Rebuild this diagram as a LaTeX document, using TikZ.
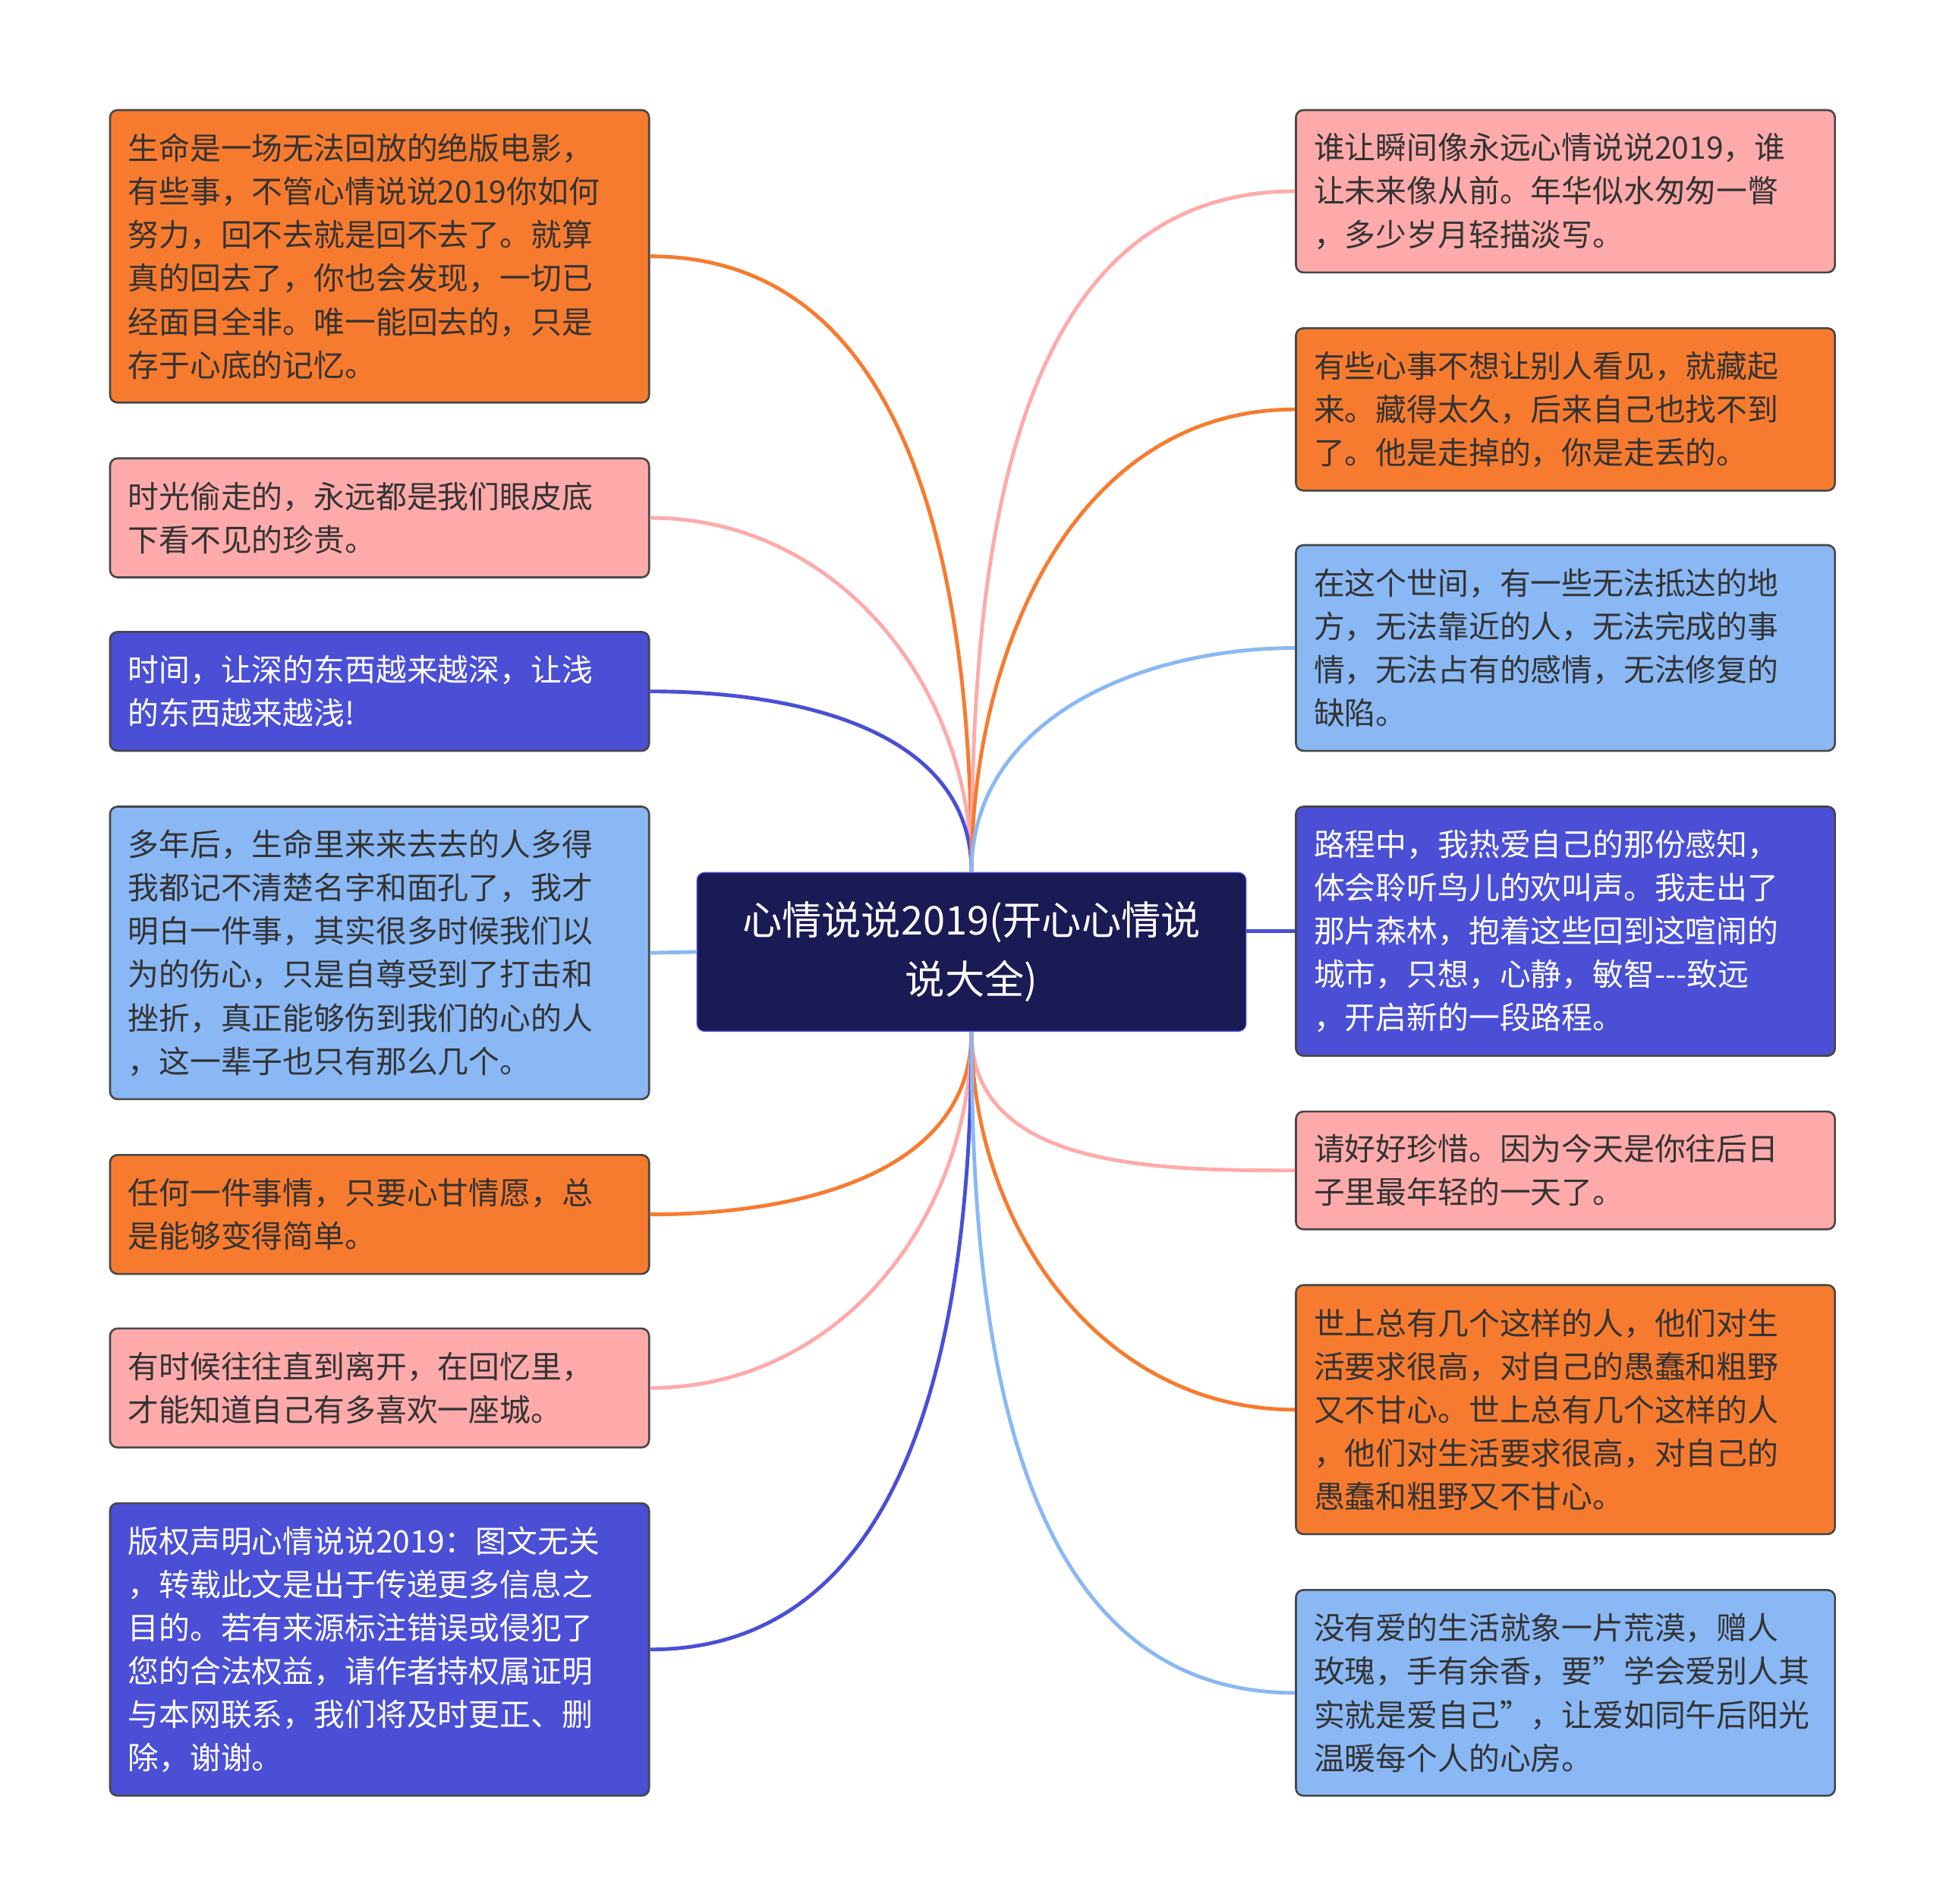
\documentclass[tikz,border=0pt]{standalone}
\usepackage{fontspec}
\setmainfont{Noto Sans CJK SC}
\usetikzlibrary{positioning}
\definecolor{orangebox}{RGB}{247,123,47}
\definecolor{pinkbox}{RGB}{255,170,170}
\definecolor{darkbox}{RGB}{74,79,214}
\definecolor{lightbox}{RGB}{138,184,245}
\definecolor{rootbox}{RGB}{26,26,85}
\definecolor{textgray}{RGB}{51,51,51}
\tikzset{
  leaf/.style={draw=textgray!90,line width=0.8pt,rounded corners=3pt,anchor=north west,
    minimum width=217.5pt,text width=203pt,inner sep=7pt,align=left,
    font=\fontsize{12.5pt}{17.5pt}\selectfont,text=textgray},
  orangeleaf/.style={leaf,fill=orangebox},
  pinkleaf/.style={leaf,fill=pinkbox},
  darkleaf/.style={leaf,fill=darkbox,text=white},
  lightleaf/.style={leaf,fill=lightbox},
  link/.style={line width=1.5pt},
}
\begin{document}
\begin{tikzpicture}[x=0.5pt,y=-0.5pt]
\useasboundingbox (0,0) rectangle (1568,1536);
% centre
\node[draw=darkbox,fill=rootbox,rounded corners=3pt,minimum width=221.5pt,minimum height=64pt,
  text=white,align=center,font=\fontsize{16pt}{24pt}\selectfont] (C) at (784,768)
  {心情说说2019(开心心情说\\说大全)};
% left
\node[orangeleaf,minimum height=118pt] (L1) at (88,88) {生命是一场无法回放的绝版电影，\\有些事，不管心情说说2019你如何\\努力，回不去就是回不去了。就算\\真的回去了，你也会发现，一切已\\经面目全非。唯一能回去的，只是\\存于心底的记忆。};
\node[pinkleaf,minimum height=48pt] (L2) at (88,369) {时光偷走的，永远都是我们眼皮底\\下看不见的珍贵。};
\node[darkleaf,minimum height=48pt] (L3) at (88,509) {时间，让深的东西越来越深，让浅\\的东西越来越浅!};
\node[lightleaf,minimum height=118pt] (L4) at (88,650) {多年后，生命里来来去去的人多得\\我都记不清楚名字和面孔了，我才\\明白一件事，其实很多时候我们以\\为的伤心，只是自尊受到了打击和\\挫折，真正能够伤到我们的心的人\\，这一辈子也只有那么几个。};
\node[orangeleaf,minimum height=48pt] (L5) at (88,931) {任何一件事情，只要心甘情愿，总\\是能够变得简单。};
\node[pinkleaf,minimum height=48pt] (L6) at (88,1071) {有时候往往直到离开，在回忆里，\\才能知道自己有多喜欢一座城。};
\node[darkleaf,minimum height=118pt] (L7) at (88,1212) {版权声明心情说说2019：图文无关\\，转载此文是出于传递更多信息之\\目的。若有来源标注错误或侵犯了\\您的合法权益，请作者持权属证明\\与本网联系，我们将及时更正、删\\除，谢谢。};
% right
\node[pinkleaf,minimum height=65.5pt] (R1) at (1045,88) {谁让瞬间像永远心情说说2019，谁\\让未来像从前。年华似水匆匆一瞥\\，多少岁月轻描淡写。};
\node[orangeleaf,minimum height=65.5pt] (R2) at (1045,264) {有些心事不想让别人看见，就藏起\\来。藏得太久，后来自己也找不到\\了。他是走掉的，你是走丢的。};
\node[lightleaf,minimum height=83pt] (R3) at (1045,439) {在这个世间，有一些无法抵达的地\\方，无法靠近的人，无法完成的事\\情，无法占有的感情，无法修复的\\缺陷。};
\node[darkleaf,minimum height=100.5pt] (R4) at (1045,650) {路程中，我热爱自己的那份感知，\\体会聆听鸟儿的欢叫声。我走出了\\那片森林，抱着这些回到这喧闹的\\城市，只想，心静，敏智{-}{-}{-}致远\\，开启新的一段路程。};
\node[pinkleaf,minimum height=47.5pt] (R5) at (1045,896) {请好好珍惜。因为今天是你往后日\\子里最年轻的一天了。};
\node[orangeleaf,minimum height=100.5pt] (R6) at (1045,1036) {世上总有几个这样的人，他们对生\\活要求很高，对自己的愚蠢和粗野\\又不甘心。世上总有几个这样的人\\，他们对生活要求很高，对自己的\\愚蠢和粗野又不甘心。};
\node[lightleaf,minimum height=83pt] (R7) at (1045,1282) {没有爱的生活就象一片荒漠，赠人\\玫瑰，手有余香，要\char"22 学会爱别人其\\实就是爱自己\char"22，让爱如同午后阳光\\温暖每个人的心房。};
% links
\draw[link,orangebox] (C.north) to[out=90,in=0] (L1.east);
\draw[link,pinkbox] (C.north) to[out=90,in=0] (L2.east);
\draw[link,darkbox] (C.north) to[out=90,in=0] (L3.east);
\draw[link,lightbox] (C.west) -- (L4.east);
\draw[link,orangebox] (C.south) to[out=-90,in=0] (L5.east);
\draw[link,pinkbox] (C.south) to[out=-90,in=0] (L6.east);
\draw[link,darkbox] (C.south) to[out=-90,in=0] (L7.east);
\draw[link,pinkbox] (C.north) to[out=90,in=180] (R1.west);
\draw[link,orangebox] (C.north) to[out=90,in=180] (R2.west);
\draw[link,lightbox] (C.north) to[out=90,in=180] (R3.west);
\draw[link,darkbox] (R4.west -| C.east) -- (R4.west);
\draw[link,pinkbox] (C.south) to[out=-90,in=180] (R5.west);
\draw[link,orangebox] (C.south) to[out=-90,in=180] (R6.west);
\draw[link,lightbox] (C.south) to[out=-90,in=180] (R7.west);
\end{tikzpicture}
\end{document}
